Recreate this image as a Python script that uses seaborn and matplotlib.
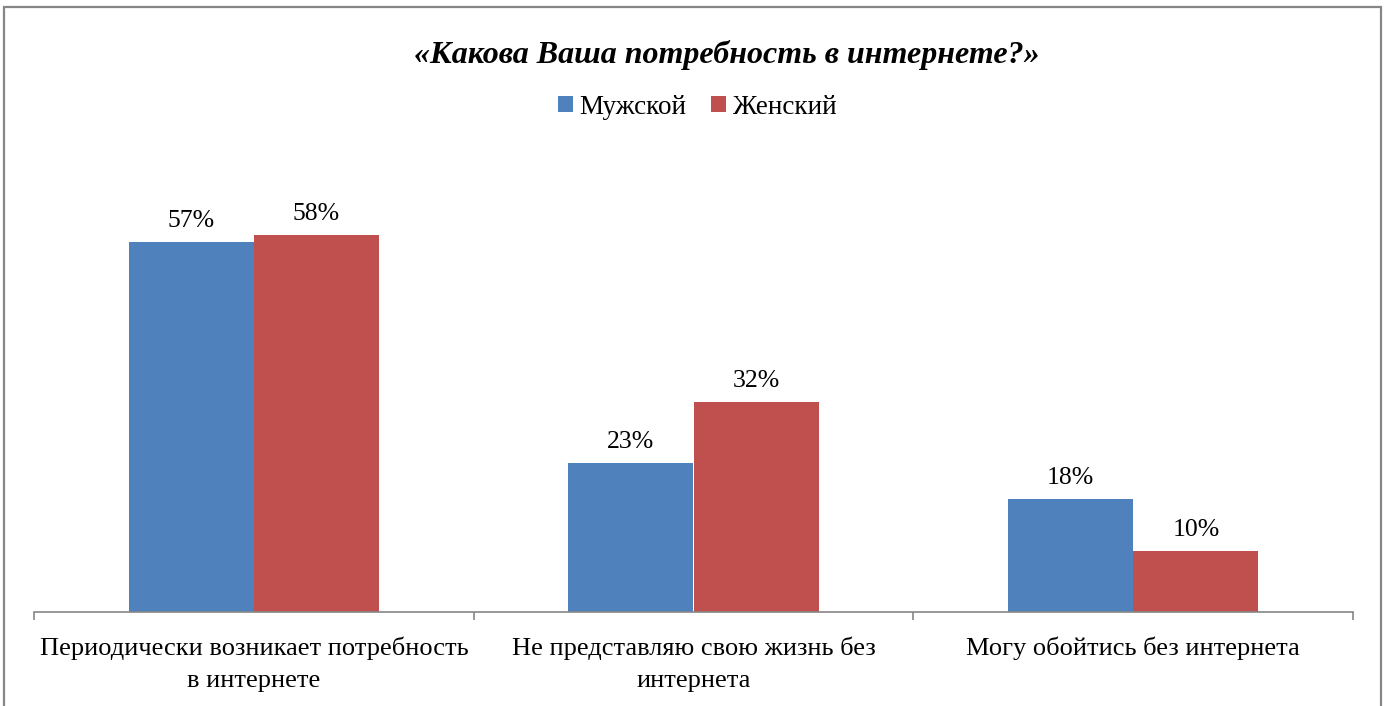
import matplotlib
matplotlib.use("Agg")
import matplotlib.pyplot as plt
import seaborn as sns
import pandas as pd
from matplotlib.patches import Rectangle

categories = ["Периодически возникает потребность\nв интернете",
              "Не представляю свою жизнь без\nинтернета",
              "Могу обойтись без интернета"]
series = ["Мужской", "Женский"]
male = [57, 23, 17.4]
female = [58, 32.3, 9.4]
male_labels = ["57%", "23%", "18%"]
female_labels = ["58%", "32%", "10%"]
colors = ["#4F81BD", "#C0504D"]
title = "«Какова Ваша потребность в интернете?»"

sns.set_theme(style="white")
plt.rcParams['font.family'] = ['Liberation Serif', 'DejaVu Serif']
plt.rcParams['text.color'] = 'black'

df = pd.DataFrame({
    "cat": categories * 2,
    "sex": [series[0]] * 3 + [series[1]] * 3,
    "val": male + female,
})

fig = plt.figure(figsize=(13.92, 7.06), dpi=100)
ax = fig.add_axes([34/1392, 94/706, (1353-34)/1392, 455/706])
sns.barplot(data=df, x="cat", y="val", hue="sex", palette=colors,
            width=0.57, saturation=1, ax=ax, edgecolor="none", legend=True)
ax.set_ylim(0, 70)
ax.set_xlim(-0.5, 2.5)
for c, labs in zip(ax.containers, [male_labels, female_labels]):
    ax.bar_label(c, labels=labs, padding=7, fontsize=18.5, color="black")
ax.set_xlabel("")
ax.set_ylabel("")
ax.set_yticks([])
for s in ["top", "right", "left"]:
    ax.spines[s].set_visible(False)
ax.spines["bottom"].set_color("#868686")
ax.spines["bottom"].set_linewidth(1.2)
ax.set_xticks([0, 1, 2])
ax.set_xticklabels(categories, fontsize=19, color="black")
for t in ax.get_xticklabels():
    t.set_linespacing(1.55)
ax.tick_params(axis="x", length=0, pad=18)
ax.set_xticks([-0.5, 0.5, 1.5, 2.5], minor=True)
ax.tick_params(axis="x", which="minor", length=6, width=1.2, color="#868686", bottom=True)

leg = ax.legend(loc="center", bbox_to_anchor=(697/1392, 1 - 107/706),
                bbox_transform=fig.transFigure, ncol=2, frameon=False,
                fontsize=19.5, handlelength=0.55, handleheight=0.55,
                handletextpad=0.25, columnspacing=0.9)
for t in leg.get_texts():
    t.set_color("black")

fig.text(727/1392, 1 - 55/706, title, ha="center", va="center",
         fontsize=23, fontweight="bold", fontstyle="italic", color="black")

fig.patches.append(Rectangle((3.5/1392, -0.1), (1381-3.5)/1392, 1.1 - 6.5/706,
                             transform=fig.transFigure, fill=False,
                             edgecolor="#868686", linewidth=1.6))

fig.savefig("out.png", dpi=100)
